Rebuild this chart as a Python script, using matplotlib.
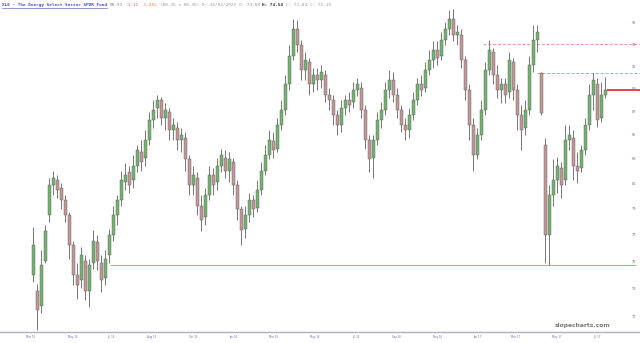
import matplotlib
matplotlib.use("Agg")
import matplotlib.pyplot as plt
from matplotlib.lines import Line2D
import matplotlib.transforms as mtransforms
import numpy as np

# ---------------- data ----------------
opens = [74.0, 72.9, 71.8, 75.1, 78.6, 80.9, 81.3, 80.7, 79.7, 78.6,
         76.3, 74.0, 73.7, 75.1, 72.9, 74.9, 76.5, 74.9, 73.8, 75.5,
         77.0, 78.6, 79.7, 81.2, 82.0, 81.3, 82.5, 83.6, 83.1, 84.6,
         86.3, 87.3, 88.0, 86.5, 87.0, 85.5, 85.6, 84.6, 84.8, 83.0,
         80.9, 81.5, 79.3, 78.4, 80.1, 81.7, 81.2, 82.5, 83.1, 82.1,
         82.8, 80.9, 79.0, 77.5, 78.6, 79.7, 79.1, 80.5, 82.1, 83.4,
         84.5, 83.9, 85.9, 87.2, 89.4, 92.0, 94.4, 93.0, 90.7, 91.4,
         89.4, 90.2, 89.8, 90.2, 88.5, 88.0, 86.7, 85.9, 87.3, 88.0,
         87.9, 88.9, 89.1, 87.2, 84.6, 83.1, 84.6, 86.3, 87.2, 88.9,
         89.8, 88.5, 87.2, 85.9, 85.5, 86.7, 88.0, 89.4, 89.1, 90.7,
         91.6, 92.5, 92.0, 93.4, 94.4, 95.4, 93.9, 93.9, 91.6, 88.9,
         85.9, 83.4, 85.0, 87.2, 90.7, 92.3, 90.2, 88.9, 89.4, 88.7,
         91.4, 88.9, 86.7, 85.6, 87.2, 91.1, 93.4, 90.4, 84.2, 77.0,
         80.1, 81.3, 82.3, 81.3, 84.6, 84.8, 82.5, 82.3, 83.8, 85.9,
         88.5, 89.4, 86.5, 88.5]
highs = [77.6, 73.4, 75.9, 77.8, 81.5, 82.1, 81.7, 81.1, 80.1, 78.8,
         76.6, 74.9, 76.1, 75.5, 75.2, 77.4, 77.0, 75.5, 75.9, 77.5,
         79.3, 80.1, 82.1, 82.7, 82.5, 83.4, 84.2, 84.6, 85.5, 87.0,
         88.0, 88.5, 88.3, 87.8, 87.3, 86.5, 86.1, 85.6, 85.3, 83.4,
         82.5, 82.0, 80.1, 80.7, 82.5, 82.3, 83.1, 83.9, 83.8, 83.6,
         83.1, 81.3, 79.3, 79.3, 80.3, 80.1, 81.3, 82.8, 84.2, 85.5,
         85.3, 86.5, 88.0, 90.2, 93.0, 95.4, 95.3, 93.4, 92.3, 91.8,
         90.9, 90.9, 91.1, 90.7, 89.1, 88.5, 87.2, 88.0, 88.5, 88.7,
         89.6, 90.0, 89.6, 87.6, 85.0, 85.0, 87.0, 87.9, 89.6, 90.7,
         90.5, 89.1, 87.6, 86.5, 87.3, 88.7, 90.0, 90.2, 91.4, 92.5,
         93.3, 93.3, 94.2, 95.1, 96.2, 96.3, 94.8, 94.4, 92.0, 89.4,
         86.5, 85.6, 88.0, 91.4, 93.4, 92.7, 91.1, 90.0, 90.0, 92.3,
         91.8, 89.4, 87.6, 88.0, 92.0, 94.8, 94.8, 90.5, 84.8, 80.9,
         83.0, 83.2, 82.8, 85.9, 85.9, 85.5, 83.6, 84.2, 86.5, 89.4,
         90.4, 90.0, 89.6, 90.1]
lows = [73.5, 70.1, 71.3, 74.9, 78.0, 80.1, 79.9, 79.0, 78.0, 75.2,
        73.3, 72.3, 73.1, 72.2, 71.7, 74.5, 74.4, 72.8, 73.3, 74.9,
        76.6, 77.8, 79.3, 80.5, 80.3, 80.7, 82.0, 82.1, 82.5, 84.2,
        85.6, 86.5, 85.9, 85.5, 84.6, 84.6, 83.8, 83.6, 82.1, 80.1,
        80.1, 78.6, 77.3, 77.8, 79.7, 80.1, 80.5, 82.0, 81.5, 81.2,
        80.1, 78.2, 76.3, 76.8, 78.0, 78.4, 78.8, 80.1, 81.7, 83.0,
        83.1, 83.6, 85.5, 86.7, 88.9, 91.6, 92.3, 89.8, 89.8, 88.5,
        88.7, 88.9, 89.1, 87.9, 87.2, 85.9, 85.0, 85.3, 86.7, 87.0,
        87.3, 88.4, 86.5, 83.9, 82.0, 81.5, 84.2, 85.6, 86.7, 88.2,
        87.9, 86.5, 85.3, 84.6, 84.8, 86.3, 87.6, 88.4, 88.7, 90.2,
        90.9, 91.1, 91.6, 93.0, 93.9, 93.3, 93.0, 90.9, 88.0, 84.6,
        82.1, 83.0, 84.6, 86.7, 90.2, 89.4, 88.2, 87.8, 87.8, 88.2,
        88.0, 85.5, 83.8, 85.0, 86.7, 90.5, 92.3, 86.7, 74.9, 74.8,
        79.3, 80.3, 79.9, 80.9, 83.8, 81.3, 81.1, 82.0, 83.4, 85.5,
        87.2, 85.7, 86.1, 88.2]
closes = [76.3, 71.5, 74.8, 77.3, 80.9, 81.5, 80.5, 79.7, 78.6, 76.3,
          74.0, 73.3, 75.5, 72.9, 74.8, 76.6, 75.1, 73.7, 75.2, 77.0,
          78.6, 79.7, 81.3, 81.7, 80.9, 82.5, 83.8, 82.8, 84.6, 86.3,
          87.2, 88.0, 86.5, 87.2, 85.5, 85.9, 84.6, 85.0, 83.0, 80.9,
          81.7, 79.3, 78.2, 80.1, 81.7, 80.9, 82.5, 83.4, 82.1, 83.0,
          80.9, 79.0, 77.4, 78.6, 79.7, 79.0, 80.5, 82.1, 83.4, 84.6,
          83.8, 85.9, 87.2, 89.4, 92.0, 94.4, 93.0, 90.7, 91.6, 89.4,
          90.2, 89.8, 90.5, 88.5, 88.0, 86.7, 85.9, 87.3, 88.0, 87.6,
          88.9, 89.4, 87.2, 84.6, 83.0, 84.6, 86.3, 87.2, 88.9, 89.8,
          88.5, 87.2, 85.9, 85.5, 86.7, 88.0, 89.4, 88.9, 90.7, 91.6,
          92.5, 91.8, 93.4, 94.4, 95.4, 93.9, 94.2, 91.6, 88.9, 85.9,
          83.4, 85.0, 87.2, 90.7, 92.5, 90.2, 88.9, 89.4, 88.5, 91.6,
          88.9, 86.7, 85.5, 87.2, 91.1, 93.4, 94.2, 86.9, 77.0, 80.1,
          81.3, 82.5, 80.9, 84.6, 85.0, 82.5, 82.1, 83.8, 85.9, 88.5,
          89.8, 86.3, 88.5, 88.9]

x_labels = ["Mar 15", "May 15", "Jul 15", "Aug 15", "Oct 15", "Jan 16", "Mar 16",
            "May 16", "Jul 16", "Sep 16", "Nov 16", "Jan 17", "Mar 17", "May 17", "Jul 17"]
y_labels = [71, 73, 75, 77, 79, 81, 83, 85, 87, 89, 91, 93, 95]

support_level = 74.8
resist_upper = 93.06
resist_lower = 90.42
last_price = 88.93

header_parts = [("XLE - The Energy Select Sector SPDR Fund", "#4545c0", "bold"),
                ("88.93", "#8a8a8a", "normal"),
                ("-1.11", "#e0703a", "normal"),
                ("-1.25%", "#e0703a", "normal"),
                ("(88.35 x 88.36)", "#9a9a9a", "normal"),
                ("D: 26/02/2023", "#9a9a9a", "normal"),
                ("O: 73.88", "#9a9a9a", "normal"),
                ("H: 74.54", "#333333", "bold"),
                ("L: 72.84", "#9a9a9a", "normal"),
                ("C: 75.19", "#9a9a9a", "normal")]

# ---------------- layout ----------------
W, H = 640, 343
fig = plt.figure(figsize=(W / 100, H / 100), dpi=100)
fig.patch.set_facecolor("white")
ax_top_px, ax_bot_px = 8, 332
ax = fig.add_axes([0, (H - ax_bot_px) / H, 1, (ax_bot_px - ax_top_px) / H])
ax.set_facecolor("white")
ax.set_yscale("log")
ax.set_ylim(69.97, 96.43)

x0_px, step_px = 33, 4.0
def px_to_x(px):
    return (px - x0_px) / step_px
ax.set_xlim(px_to_x(0), px_to_x(W))

n = len(closes)
idx = np.arange(n)
o = np.array(opens); c = np.array(closes); h = np.array(highs); l = np.array(lows)
up = c >= o
up_col, dn_col = "#72b372", "#c49696"
edge = "#5a5a5a"

ax.vlines(idx, l, h, color="#606060", linewidth=0.6, zorder=3)
bottoms = np.minimum(o, c)
heights = np.maximum(np.abs(c - o), 0.06)
ax.bar(idx[up], heights[up], bottom=bottoms[up], width=0.75, color=up_col,
       edgecolor=edge, linewidth=0.3, zorder=4)
ax.bar(idx[~up], heights[~up], bottom=bottoms[~up], width=0.75, color=dn_col,
       edgecolor=edge, linewidth=0.3, zorder=4)

# level lines
ax.hlines(support_level, px_to_x(110), px_to_x(636), color="#92c092", linewidth=0.8, zorder=2)
ax.hlines(resist_upper, px_to_x(483), px_to_x(W), color="#e59a9a", linewidth=0.7,
          linestyles=(0, (3, 2)), zorder=2)
ax.hlines(resist_lower, px_to_x(537), px_to_x(W), color="#e59a9a", linewidth=0.7,
          linestyles=(0, (3, 2)), zorder=2)
ax.hlines(last_price, px_to_x(607), px_to_x(W), color="#d42a2a", linewidth=1.2, zorder=5)

# spines
for s in ["top", "left", "right"]:
    ax.spines[s].set_visible(False)
ax.spines["bottom"].set_color("#b0b0c0")
ax.spines["bottom"].set_linewidth(1.0)

# x tick labels
tick_px = [31, 73, 111, 152, 193, 233, 274, 315, 356, 397, 438, 477, 516, 557, 597]
ax.set_xticks([px_to_x(p) for p in tick_px])
ax.set_xticklabels(x_labels, fontsize=1.9, color="#6e6ea8")
ax.tick_params(axis="x", length=0, pad=2.5)
ax.set_yticks([])
ax.yaxis.set_minor_locator(matplotlib.ticker.NullLocator())

# y labels inside at right
trans = mtransforms.blended_transform_factory(ax.transAxes, ax.transData)
for v in y_labels:
    ax.text(634 / W, v, str(v), transform=trans, ha="center", va="center",
            fontsize=2.5, color="#6e6ea8", zorder=6)

# watermark
fig.text(583 / W, 1 - 326 / H, "slopecharts.com", ha="center", va="center",
         fontsize=4.3, color="#7a7a7a", fontweight="bold", family="DejaVu Sans")

# header
cw = 2.63
pos = 0
for txt, col, wt in header_parts:
    fig.text((2 + pos * cw) / W, 1 - 5 / H, txt, ha="left", va="center",
             fontsize=3.15, color=col, fontweight=wt, family="DejaVu Sans Mono")
    pos += len(txt) + 1
title_len = len(header_parts[0][0])
fig.add_artist(Line2D([2 / W, (2 + title_len * cw) / W], [1 - 8 / H, 1 - 8 / H],
                      color="#4545c0", linewidth=0.4))

fig.savefig("out.png", dpi=100, facecolor="white")
